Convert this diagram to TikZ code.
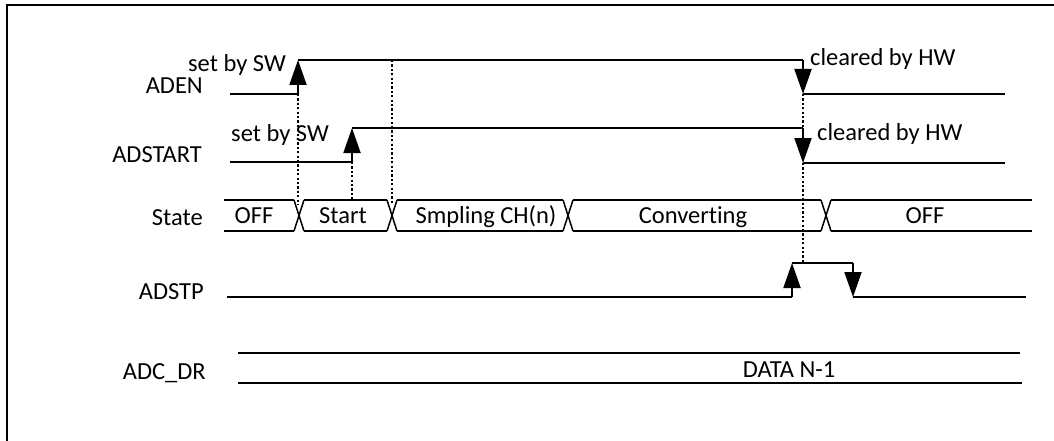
\documentclass[tikz,border=0pt]{standalone}
\usepackage{fontspec}
\setmainfont{Carlito}[Ligatures={NoCommon}]
\usetikzlibrary{arrows.meta}
\begin{document}
\begin{tikzpicture}[x=1pt,y=-1pt,
  sig/.style={line width=1.9pt},
  bus/.style={line width=1.5pt},
  dotline/.style={line width=1.5pt,dash pattern=on 2.2pt off 2.2pt},
  tip/.style={-{Triangle[length=25pt,width=17pt]}},
  lbl/.style={font=\fontsize{24.5}{28}\selectfont,inner sep=0pt},
]
\useasboundingbox (0,0) rectangle (1054,441);
% frame
\draw[line width=2.4pt] (7,460) -- (7,5) -- (1070,5);

% ADEN
\coordinate (a0) at (230,94);
\coordinate (a1) at (298,94);
\coordinate (a2) at (298,60);
\coordinate (a3) at (803,60);
\coordinate (a4) at (803,94);
\coordinate (a5) at (1005,94);
\draw[sig] (a0) -- (a1);
\draw[sig,tip] (a1) -- (a2);
\draw[sig] (a2) -- (a3);
\draw[sig,tip] (a3) -- (a4);
\draw[sig] (a4) -- (a5);

% ADSTART
\coordinate (s0) at (230,162);
\coordinate (s1) at (352,162);
\coordinate (s2) at (352,128);
\coordinate (s3) at (803,128);
\coordinate (s4) at (803,163);
\coordinate (s5) at (1005,163);
\draw[sig] (s0) -- (s1);
\draw[sig,tip] (s1) -- (s2);
\draw[sig] (s2) -- (s3);
\draw[sig,tip] (s3) -- (s4);
\draw[sig] (s4) -- (s5);

% State bus
\def\yt{200}\def\yb{231}\def\h{5}
\foreach \xa/\xb in {224/294, 304/387, 397/563, 573/821, 831/1032}{
  \draw[bus] (\xa,\yt) -- (\xb,\yt);
  \draw[bus] (\xa,\yb) -- (\xb,\yb);
}
\foreach \c in {299,392,568,826}{
  \draw[bus] (\c-\h,\yt) -- (\c+\h,\yb);
  \draw[bus] (\c-\h,\yb) -- (\c+\h,\yt);
}

% ADSTP
\coordinate (p0) at (227,297);
\coordinate (p1) at (792,297);
\coordinate (p2) at (792,263);
\coordinate (p3) at (853,263);
\coordinate (p4) at (853,297);
\coordinate (p5) at (1026,297);
\draw[sig] (p0) -- (p1);
\draw[sig,tip] (p1) -- (p2);
\draw[sig] (p2) -- (p3);
\draw[sig,tip] (p3) -- (p4);
\draw[sig] (p4) -- (p5);

% ADC_DR
\coordinate (d0) at (238,353);
\coordinate (d1) at (1020,353);
\coordinate (d2) at (238,383);
\coordinate (d3) at (1022,383);
\draw[bus] (d0) -- (d1);
\draw[bus] (d2) -- (d3);

% dotted lines
\coordinate (t1) at (298,205);
\coordinate (t2) at (352,200);
\coordinate (t3u) at (392,60);
\coordinate (t3) at (392,205);
\coordinate (c1) at (803,128);
\coordinate (c2) at (803,263);
\draw[dotline] (a1) -- (t1);
\draw[dotline] (s1) -- (t2);
\draw[dotline] (t3u) -- (t3);
\draw[dotline] (a4) -- (c1);
\draw[dotline] (s4) -- (c2);

% labels
\node[lbl,anchor=base east] (lADEN) at (203,94) {ADEN};
\node[lbl,anchor=base east] (lADSTART) at (202,162) {ADSTART};
\node[lbl,anchor=base east] (lState) at (203,225) {State};
\node[lbl,anchor=base east] (lADSTP) at (204,299) {ADSTP};
\node[lbl,anchor=base east] (lADCDR) at (206,379) {ADC\_DR};
\node[lbl,anchor=base east] (sw1) at (286,72) {set by SW};
\node[lbl,anchor=base west] (sw2) at (231,142) {set by SW};
\node[lbl,anchor=base west] (hw1) at (810,66) {cleared by HW};
\node[lbl,anchor=base west] (hw2) at (817,140) {cleared by HW};
\node[lbl,anchor=base] (st1) at (254,223) {OFF};
\node[lbl,anchor=base] (st2) at (343,223) {Start};
\node[lbl,anchor=base] (st3) at (486,223) {Smpling CH(n)};
\node[lbl,anchor=base] (st4) at (693,223) {Converting};
\node[lbl,anchor=base] (st5) at (925,223) {OFF};
\node[lbl,anchor=base] (data) at (789,377) {DATA N-1};
\end{tikzpicture}
\end{document}
